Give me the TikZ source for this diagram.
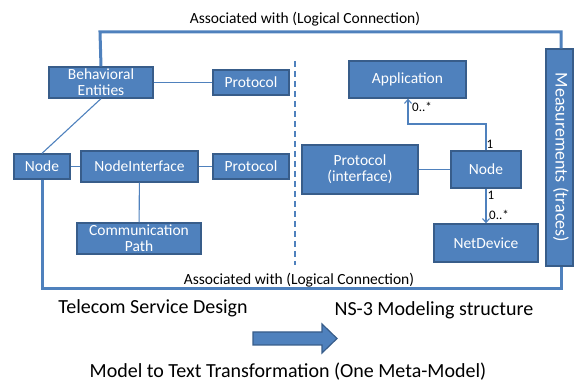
\documentclass[tikz,border=0pt]{standalone}
\usepackage{fontspec}
\setmainfont{Carlito}
\usetikzlibrary{arrows.meta}
\definecolor{boxfill}{HTML}{4F81BD}
\definecolor{boxline}{HTML}{385D8A}
\begin{document}
\begin{tikzpicture}[x=1pt,y=-1pt,
          every node/.style={inner sep=0pt},
          blk/.style={fill=boxfill,draw=boxline,line width=1.3pt,text=white,
            align=center,font=\fontsize{15.5}{16}\selectfont},
          link/.style={draw=boxfill,line width=1.1pt},
          frame/.style={draw=boxfill,line width=3pt},
          mult/.style={font=\fontsize{13}{14}\selectfont},
          big/.style={font=\fontsize{20}{22}\selectfont},
          >={Straight Barb[length=4pt,width=7pt]}]
          \useasboundingbox(0,0)rectangle(574,385);
          % telecom side
          \node[blk,minimum width=104pt,minimum height=31pt](behav)at(101,82.5){Behavioral\\Entities};
          \node[blk,minimum width=76pt,minimum height=25pt](proto1)at(251,82.5){Protocol};
          \node[blk,minimum width=56pt,minimum height=25pt](nodeL)at(42,166.5){Node};
          \node[blk,minimum width=117pt,minimum height=31pt](nodeif)at(139.5,166.5){NodeInterface};
          \node[blk,minimum width=76pt,minimum height=25pt](proto2)at(251,166.5){Protocol};
          \node[blk,minimum width=124pt,minimum height=31pt](commpath)at(139,238.5){Communication\\Path};
          % ns-3 side
          \node[blk,minimum width=117pt,minimum height=37pt](app)at(407.5,79.5){Application};
          \node[blk,minimum width=116pt,minimum height=49pt](protoif)at(360,169.5){Protocol\\(interface)};
          \node[blk,minimum width=70pt,minimum height=37pt](nodeR)at(486,169.5){Node};
          \node[blk,minimum width=104pt,minimum height=38pt](netdev)at(486,243){NetDevice};
          \node[blk,minimum width=27pt,minimum height=217pt](meas)at(559.5,157.5){};
          \node[text=white,rotate=-90,font=\fontsize{18}{20}\selectfont,
            text height=12pt,text depth=4pt](measlbl)at(meas.center){Measurements (traces)};
          % links
          \draw[link](behav)--(proto1);
          \draw[link](behav.south)--(nodeL.north);
          \draw[link](nodeL)--(nodeif);
          \draw[link](nodeif)--(proto2);
          \draw[link](nodeif)--(commpath);
          \draw[link](protoif)--(nodeR);
          \draw[link,->](nodeR.north)--(486,124)--(408,124)--(app.south-|408,0);
          \draw[link,->](nodeR)--(netdev);
          \node[mult](m1)at(490,144){1};
          \node[mult](m2)at(422,107){0..*};
          \node[mult](m3)at(491,195){1};
          \node[mult](m4)at(499,215){0..*};
          % logical connection frame
          \draw[frame](behav.north)--(100,32)--(561,32)--(meas.north-|561,0);
          \draw[frame](nodeL.south)--(42,289)--(561,289)--(meas.south-|561,0);
          \node[font=\fontsize{15.5}{16}\selectfont](assoc1)at(305,19){Associated with (Logical Connection)};
          \node[font=\fontsize{15.5}{16}\selectfont](assoc2)at(299,280){Associated with (Logical Connection)};
          \draw[boxfill,line width=2pt,dash pattern=on 6pt off 4pt](295,61)--(295,265);
          % captions
          \node[big](tsd)at(153,308){Telecom Service Design};
          \node[big](ns3)at(434,310){NS-3 Modeling structure};
          \filldraw[fill=boxfill,draw=boxline,line width=1.2pt](253,332)--(322,332)--(322,324)
             --(337,338.5)--(322,353)--(322,345)--(253,345)--cycle;
          \node[big](m2t)at(288,372){Model to Text Transformation (One Meta-Model)};
        \end{tikzpicture}
\end{document}
